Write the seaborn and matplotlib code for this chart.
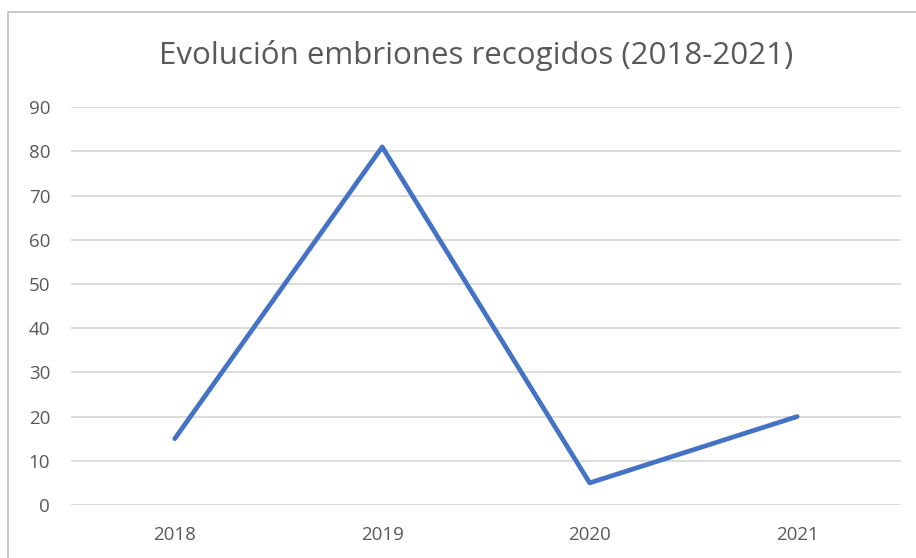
import matplotlib
matplotlib.use("Agg")
import matplotlib.pyplot as plt
import seaborn as sns
import pandas as pd
from matplotlib.patches import Rectangle

years = ["2018", "2019", "2020", "2021"]
embriones = [15, 81, 5, 20]
yticks = [0, 10, 20, 30, 40, 50, 60, 70, 80, 90]

df = pd.DataFrame({"year": years, "embriones": embriones})

sns.set_style("white")
plt.rcParams["font.family"] = ["Open Sans", "DejaVu Sans"]

fig = plt.figure(figsize=(9.16, 5.58), dpi=100)
ax = fig.add_axes([0.0775, 0.095, 0.906, 0.713])

sns.lineplot(data=df, x="year", y="embriones", ax=ax, color="#4472C4",
             linewidth=3.4, solid_capstyle="round", sort=False)

ax.set_xlim(-0.5, 3.5)
ax.set_ylim(0, 90)
ax.set_yticks(yticks)
ax.yaxis.grid(True, color="#D9D9D9", linewidth=1.3)
ax.set_axisbelow(True)
for s in ax.spines.values():
    s.set_visible(False)
ax.tick_params(axis="both", length=0, labelsize=13.5, labelcolor="#595959")
ax.tick_params(axis="y", pad=15)
ax.tick_params(axis="x", pad=15)
ax.set_xlabel("")
ax.set_ylabel("")

fig.text(0.52, 0.9, "Evolución embriones recogidos (2018-2021)", ha="center",
         va="center", fontsize=22.5, color="#595959")

fig.patches.append(Rectangle((8 / 916, -0.1), 1.2, 1 - 12 / 558 + 0.1,
                             transform=fig.transFigure, fill=False,
                             edgecolor="#BFBFBF", linewidth=1.2))

fig.savefig("out.png", dpi=100)
